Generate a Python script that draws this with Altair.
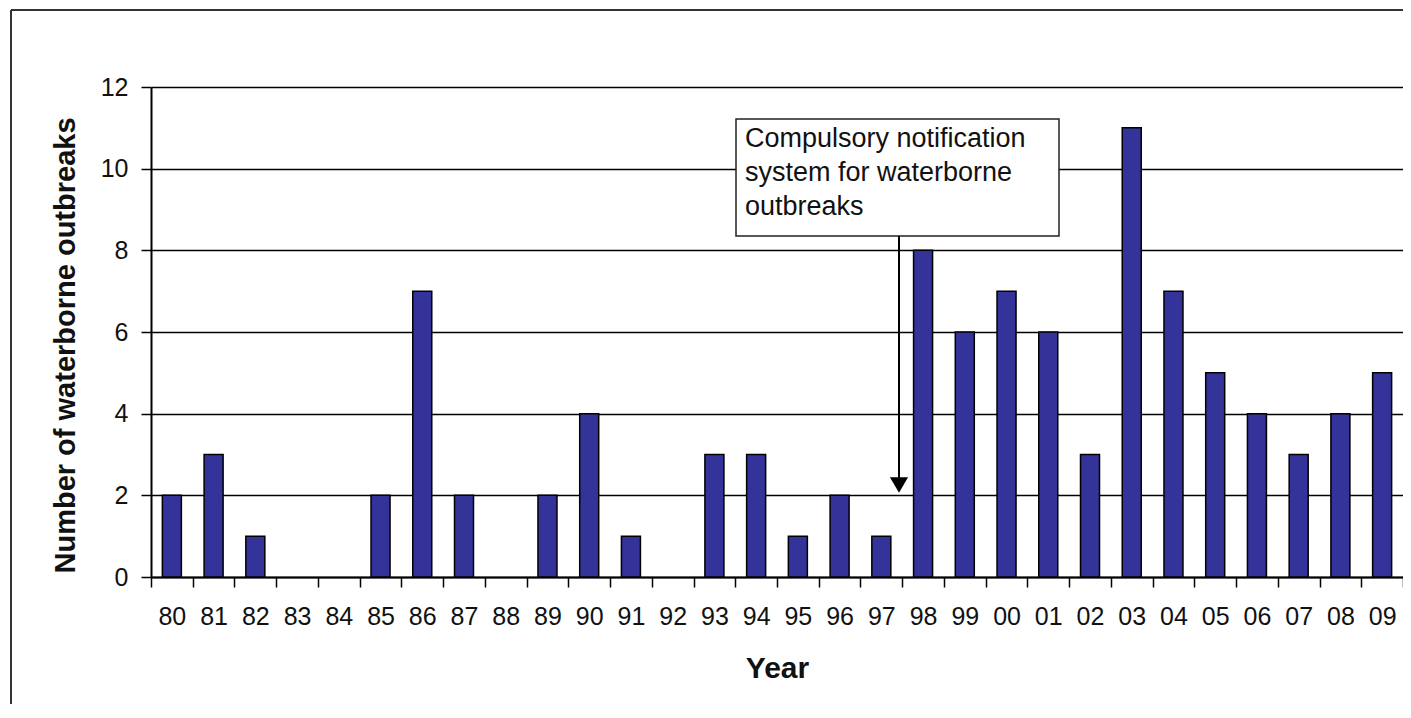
import altair as alt
import pandas as pd

years = ["80", "81", "82", "83", "84", "85", "86", "87", "88", "89",
         "90", "91", "92", "93", "94", "95", "96", "97", "98", "99",
         "00", "01", "02", "03", "04", "05", "06", "07", "08", "09"]
counts = [2, 3, 1, 0, 0, 2, 7, 2, 0, 2,
          4, 1, 0, 3, 3, 1, 2, 1, 8, 6,
          7, 6, 3, 11, 7, 5, 4, 3, 4, 5]
y_ticks = [0, 2, 4, 6, 8, 10, 12]
note_lines = ["Compulsory notification", "system for waterborne", "outbreaks"]

FONT = "Liberation Sans, Arial, sans-serif"
BAR = "#333399"

df = pd.DataFrame({"year": years, "count": counts})
one = pd.DataFrame({"note": ["\n".join(note_lines)]})

x_enc = alt.X(
    "year:N", sort=years,
    scale=alt.Scale(domain=years, paddingInner=0, paddingOuter=0),
    axis=alt.Axis(
        title="Year", tickBand="extent", labelAngle=0, labelFontSize=25,
        labelFont=FONT, labelColor="#111", labelPadding=17, tickSize=10,
        tickColor="black", tickWidth=1.5, domainColor="black", domainWidth=2,
        grid=False, titleFont=FONT, titleFontSize=30, titleFontWeight="bold",
        titleColor="#111", titleY=91, titleBaseline="middle",
    ),
)
y_enc = alt.Y(
    "count:Q",
    scale=alt.Scale(domain=[0, 12], nice=False),
    axis=alt.Axis(
        title="Number of waterborne outbreaks", values=y_ticks, grid=True,
        gridColor="black", gridWidth=1.4, domainColor="black", domainWidth=2,
        tickColor="black", tickWidth=1.5, tickSize=10, labelFontSize=25,
        labelFont=FONT, labelColor="#111", labelPadding=13,
        titleFont=FONT, titleFontSize=29, titleFontWeight="bold",
        titleColor="#111", titleAngle=270, titleX=-86, titleY=258,
        titleAlign="center", titleBaseline="middle",
    ),
)

bars = alt.Chart(df).transform_filter("datum.count > 0").mark_bar(
    size=19, color=BAR, stroke="black", strokeWidth=1.5
).encode(x=x_enc, y=y_enc)

frame_top = alt.Chart(one).mark_rule(color="#333", strokeWidth=2).encode(
    x=alt.value(-140), x2=alt.value(1252), y=alt.value(-77))
frame_left = alt.Chart(one).mark_rule(color="#333", strokeWidth=2).encode(
    x=alt.value(-140), y=alt.value(-77), y2=alt.value(617))

box = alt.Chart(one).mark_rect(
    fill="white", stroke="#222", strokeWidth=1.5
).encode(x=alt.value(585), x2=alt.value(908),
         y=alt.value(32), y2=alt.value(149))

note = alt.Chart(one).mark_text(
    align="left", baseline="top", lineBreak="\n", lineHeight=34,
    fontSize=27, font=FONT, color="#111"
).encode(x=alt.value(594), y=alt.value(39), text="note:N")

arrow = alt.Chart(one).mark_rule(color="black", strokeWidth=2).encode(
    x=alt.value(748), y=alt.value(149), y2=alt.value(394))

head = alt.Chart(one).mark_point(
    shape="triangle-down", filled=True, color="black", size=330, opacity=1
).encode(x=alt.value(748), y=alt.value(398))

chart = alt.layer(frame_top, frame_left, bars, box, note, arrow, head).properties(
    width=1252, height=490,
    autosize=alt.AutoSizeParams(type="none"),
    padding={"left": 143, "top": 79, "right": 0, "bottom": 127},
).configure_view(stroke="transparent", strokeWidth=0).configure(background="white")

chart.save("out.html", embed_options={"renderer": "svg", "actions": False})
